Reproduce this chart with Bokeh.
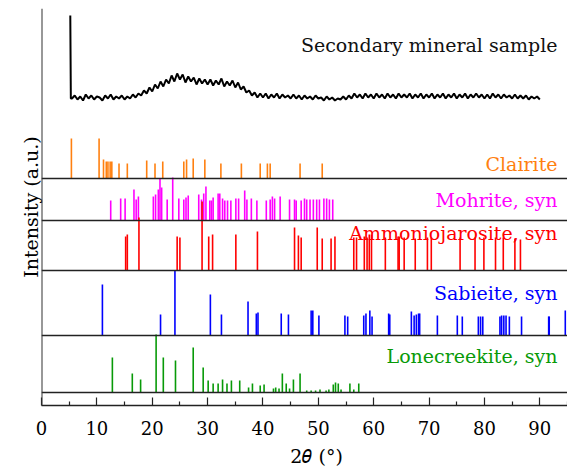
import numpy as np
from bokeh.plotting import figure
from bokeh.models import Range1d, Span, Label, FixedTicker, Title
from bokeh.embed import file_html
from bokeh.resources import INLINE

# ---------------- data ----------------
sample_spike_2theta = [5.2, 5.3]
sample_spike_int = [85, 2]
sample_2theta = list(np.arange(5.5, 90.01, 0.5))
sample_int = [
    2, 5, 1, 4, 0, 6, 2, 5, 1, 4,
    3, 0, 5, 2, 6, 1, 4, 2, 5, 1,
    4, 2, 6, 3, 7, 5, 10, 7, 13, 9,
    16, 12, 19, 14, 21, 17, 25, 19, 27, 21,
    26, 18, 24, 19, 23, 16, 22, 17, 21, 16,
    21, 15, 20, 16, 22, 14, 19, 15, 20, 13,
    18, 11, 14, 8, 10, 5, 8, 3, 7, 3,
    7, 2, 6, 3, 7, 2, 6, 3, 5, 2,
    6, 2, 5, 1, 5, 2, 4, 1, 5, 2,
    3, 0, 4, 1, 3, 0, 2, 1, 4, 1,
    5, 2, 7, 3, 6, 2, 7, 3, 6, 2,
    7, 3, 6, 2, 7, 3, 6, 2, 7, 3,
    6, 3, 7, 2, 6, 3, 7, 2, 6, 3,
    7, 2, 6, 3, 7, 2, 6, 3, 7, 2,
    6, 3, 7, 2, 6, 3, 7, 3, 6, 2,
    6, 2, 7, 3, 6, 2, 6, 3, 5, 2,
    6, 2, 5, 2, 5, 1, 4, 2, 4, 1,
]

clairite_2theta = [5.4, 10.4, 11.2, 11.7, 12.0, 12.4, 12.7, 14.0, 15.5, 19.0, 20.5,
                   21.9, 25.7, 26.2, 27.4, 29.5, 32.4, 36.1, 39.5, 40.8, 41.3, 46.7, 50.7]
clairite_int = [40, 40, 19, 17, 17, 17, 17, 15, 15, 18, 15,
                17, 17, 19, 20, 19, 15, 15, 15, 15, 15, 15, 15]

mohrite_2theta = [12.5, 14.3, 15.1, 16.7, 17.1, 17.5, 20.2, 20.6, 21.1, 21.4, 21.7,
                  22.7, 23.7, 24.8, 25.7, 26.1, 26.5, 28.4, 28.9, 29.3, 29.7, 30.4,
                  30.7, 31.0, 31.9, 32.2, 32.7, 33.1, 33.6, 34.2, 35.1, 35.6, 36.7,
                  37.1, 37.9, 38.9, 40.6, 41.3, 41.7, 42.1, 43.1, 44.8, 45.7, 46.0,
                  46.9, 47.5, 47.9, 48.5, 49.1, 49.7, 50.2, 51.0, 51.5, 52.0, 52.6]
mohrite_int = [20, 22, 22, 31, 21, 24, 24, 26, 31, 42, 33,
               21, 43, 22, 21, 23, 25, 26, 21, 27, 34, 20,
               20, 23, 27, 27, 22, 20, 20, 20, 22, 22, 30,
               21, 22, 20, 20, 21, 24, 22, 24, 21, 21, 20,
               20, 22, 21, 21, 21, 21, 21, 22, 22, 21, 21]

ammonio_2theta = [15.2, 15.5, 17.6, 24.5, 25.0, 29.0, 30.2, 30.9, 35.1, 39.0, 45.7,
                  46.4, 46.9, 49.8, 50.7, 52.3, 53.0, 56.4, 56.9, 58.3, 58.8, 59.2,
                  59.6, 62.1, 64.4, 64.6, 65.5, 67.5, 69.7, 70.4, 75.6, 78.3, 79.9,
                  82.0, 83.4, 85.5, 86.5]
ammonio_int = [34, 36, 53, 34, 33, 69, 34, 36, 36, 39, 43,
               35, 33, 43, 32, 32, 34, 33, 33, 34, 33, 36,
               36, 33, 34, 34, 33, 32, 33, 33, 33, 33, 33,
               33, 33, 32, 31]

sabieite_2theta = [11.0, 21.5, 24.1, 30.5, 32.5, 37.3, 38.8, 39.1, 43.3, 44.6, 48.7,
                   49.0, 50.1, 54.8, 55.3, 58.2, 58.6, 59.3, 59.7, 62.7, 62.9, 66.8,
                   67.3, 67.7, 68.1, 68.3, 71.5, 75.1, 76.0, 78.9, 79.3, 79.7, 82.8,
                   83.1, 83.5, 83.9, 84.5, 86.7, 91.6, 91.7, 94.6]
sabieite_int = [51, 21, 65, 41, 21, 34, 22, 23, 22, 21, 25,
                25, 20, 20, 19, 20, 22, 25, 19, 22, 21, 24,
                20, 21, 22, 22, 20, 20, 19, 19, 19, 19, 19,
                20, 20, 20, 19, 19, 19, 19, 25]

lonecreekite_2theta = [12.8, 16.4, 17.9, 20.7, 22.0, 24.2, 27.4, 29.2, 30.1, 31.0, 31.9,
                       32.7, 33.5, 34.3, 35.8, 37.4, 38.1, 39.5, 40.2, 41.9, 42.3, 42.9,
                       43.5, 44.2, 44.8, 45.5, 46.7, 47.9, 48.7, 49.5, 50.3, 51.4, 51.9,
                       52.7, 53.1, 53.6, 54.1, 55.7, 56.4, 57.3]
lonecreekite_int = [35, 19, 13, 58, 35, 32, 45, 25, 12, 9, 9,
                    13, 9, 12, 12, 5, 9, 7, 8, 4, 5, 4,
                    19, 9, 4, 13, 19, 2, 2, 2, 3, 2, 3,
                    8, 10, 9, 3, 9, 3, 9]

x_ticks = [0, 10, 20, 30, 40, 50, 60, 70, 80, 90]
x_minor_ticks = [5, 15, 25, 35, 45, 55, 65, 75, 85, 95]

panel_names = ["Clairite", "Mohrite, syn", "Ammoniojarosite, syn", "Sabieite, syn", "Lonecreekite, syn"]
panel_colors = ["#FF8010", "#FF00FF", "#FF0000", "#0000FF", "#089A08"]

# ---------------- layout ----------------
panel_bases = [227, 185, 135, 70, 13]
label_y = [242, 206, 173, 113, 50]
separators = [227, 185, 135, 70, 13]
sample_base = 305

FONT = "DejaVu Serif"

p = figure(width=567, height=471, output_backend="svg", toolbar_location=None,
           x_range=Range1d(0, 95), y_range=Range1d(0, 397),
           min_border_left=41, min_border_right=0, min_border_top=8, min_border_bottom=66)
p.outline_line_color = None
p.xgrid.visible = False
p.ygrid.visible = False
p.yaxis.visible = False

xa = p.xaxis[0]
xa.ticker = FixedTicker(ticks=x_ticks, minor_ticks=x_minor_ticks)
xa.major_tick_in = 8
xa.major_tick_out = 0
xa.minor_tick_in = 4
xa.minor_tick_out = 0
xa.axis_line_width = 1.5
xa.major_tick_line_width = 1.2
xa.minor_tick_line_width = 1.2
xa.axis_line_color = "#222222"
xa.major_tick_line_color = "#222222"
xa.minor_tick_line_color = "#222222"
xa.major_label_text_font = FONT
xa.major_label_text_font_size = "18px"
xa.major_label_text_color = "black"
xa.major_label_standoff = 15
xa.axis_label = "\u00a0\u00a0\u00a0\u00a02\U0001D703 (°)"
xa.axis_label_text_font = FONT
xa.axis_label_text_font_size = "19px"
xa.axis_label_text_font_style = "normal"
xa.axis_label_text_color = "black"
xa.axis_label_standoff = 7

p.add_layout(Title(text="Intensity (a.u.)", align="center",
                   text_font=FONT, text_font_size="19px", text_font_style="normal",
                   text_color="black", standoff=0), "left")

sx = sample_spike_2theta + sample_2theta
sy = [sample_base + v for v in sample_spike_int + sample_int]
p.line(sx, sy, line_color="black", line_width=2.0)

data_sets = [(clairite_2theta, clairite_int), (mohrite_2theta, mohrite_int),
             (ammonio_2theta, ammonio_int), (sabieite_2theta, sabieite_int),
             (lonecreekite_2theta, lonecreekite_int)]
for (xs, ys), base, col in zip(data_sets, panel_bases, panel_colors):
    p.segment(x0=xs, y0=[base] * len(xs), x1=xs, y1=[base + v for v in ys],
              line_color=col, line_width=1.6)

for s in separators:
    p.add_layout(Span(location=s, dimension="width", line_color="#222222", line_width=1.6))
p.add_layout(Span(location=0, dimension="height", line_color="#333333", line_width=2))

p.add_layout(Label(x=93.2, y=361, text="Secondary mineral sample", text_align="right",
                   text_baseline="middle", text_font=FONT, text_font_size="19px",
                   text_color="#111111"))
for name, col, ly in zip(panel_names, panel_colors, label_y):
    p.add_layout(Label(x=93.2, y=ly, text=name, text_align="right", text_baseline="middle",
                       text_font=FONT, text_font_size="19px", text_color=col))

open("out.html", "w").write(file_html(p, INLINE))
